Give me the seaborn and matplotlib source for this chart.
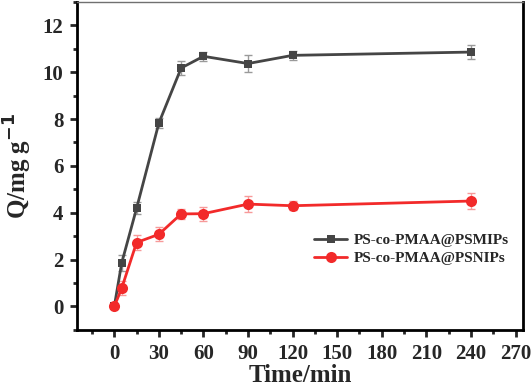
import matplotlib
matplotlib.use("Agg")
import matplotlib.pyplot as plt
import seaborn as sns
import pandas as pd
from matplotlib.ticker import MultipleLocator

# data
time_min = [0, 5, 15, 30, 45, 60, 90, 120, 240]
q_mips = [0.0, 1.86, 4.19, 7.83, 10.18, 10.68, 10.37, 10.72, 10.86]
q_mips_err = [0.05, 0.35, 0.25, 0.2, 0.3, 0.2, 0.35, 0.2, 0.3]
q_nips = [0.0, 0.78, 2.73, 3.08, 3.95, 3.96, 4.37, 4.30, 4.50]
q_nips_err = [0.05, 0.3, 0.3, 0.3, 0.2, 0.3, 0.35, 0.2, 0.35]
labels = ["PS-co-PMAA@PSMIPs", "PS-co-PMAA@PSNIPs"]

sns.set_style("ticks")
plt.rcParams["font.family"] = ["Liberation Serif", "DejaVu Serif"]
plt.rcParams["font.weight"] = "bold"

df = pd.concat([
    pd.DataFrame({"t": time_min, "q": q_mips, "err": q_mips_err, "s": labels[0]}),
    pd.DataFrame({"t": time_min, "q": q_nips, "err": q_nips_err, "s": labels[1]}),
])

fig = plt.figure(figsize=(5.32, 3.89), dpi=100)
ax = fig.add_axes([0.145, 0.152, 0.838, 0.843])

colors = {labels[0]: "#454545", labels[1]: "#f22a2a"}
ecolors = {labels[0]: "#9a9a9a", labels[1]: "#f79a9a"}
markers = {labels[0]: "s", labels[1]: "o"}
sizes = {labels[0]: 6, labels[1]: 8}

for name, g in df.groupby("s", sort=False):
    ax.errorbar(g["t"], g["q"], yerr=g["err"], fmt="none",
                ecolor=ecolors[name], elinewidth=1, capsize=3, capthick=1, zorder=2)
sns.lineplot(data=df, x="t", y="q", hue="s", style="s", palette=colors,
             markers=markers, dashes=False, linewidth=2, markeredgewidth=0,
             ax=ax, zorder=3, legend=False)
# marker sizes per series
for line in ax.lines:
    c = matplotlib.colors.to_hex(line.get_color())
    for name in labels:
        if c == colors[name]:
            line.set_markersize(sizes[name])

handles = [plt.Line2D([], [], color=colors[n], marker=markers[n], markersize=sizes[n],
                      markeredgewidth=0, linewidth=2) for n in labels]
ax.legend(handles, labels, loc="upper left", bbox_to_anchor=(0.5, 0.335), frameon=False,
          prop={"family": "Liberation Serif", "weight": "bold", "size": 11},
          handlelength=2.2, handletextpad=0.4, labelspacing=0.25)

ax.set_xlim(-25, 275)
ax.set_ylim(-1, 13)
ax.set_xticks(range(0, 271, 30))
ax.set_yticks(range(0, 13, 2))
ax.xaxis.set_minor_locator(MultipleLocator(15))
ax.yaxis.set_minor_locator(MultipleLocator(1))
ax.tick_params(axis="both", which="major", direction="out", length=5, width=2,
               labelsize=15, pad=5, top=False, right=False)
ax.tick_params(axis="both", which="minor", direction="out", length=3, width=2,
               top=False, right=False)
for lab in ax.get_xticklabels() + ax.get_yticklabels():
    lab.set_fontweight("bold")

ax.set_xlabel("Time/min", fontsize=18, fontweight="bold", labelpad=0)
ax.set_ylabel("Q/mg g$^{\\mathbf{-1}}$", fontsize=18, fontweight="bold", labelpad=6)

for side in ["left", "bottom", "right"]:
    ax.spines[side].set_linewidth(2)
    ax.spines[side].set_color("black")
ax.spines["top"].set_linewidth(1)
ax.spines["top"].set_color("#707070")

fig.savefig("out.png", dpi=100)
